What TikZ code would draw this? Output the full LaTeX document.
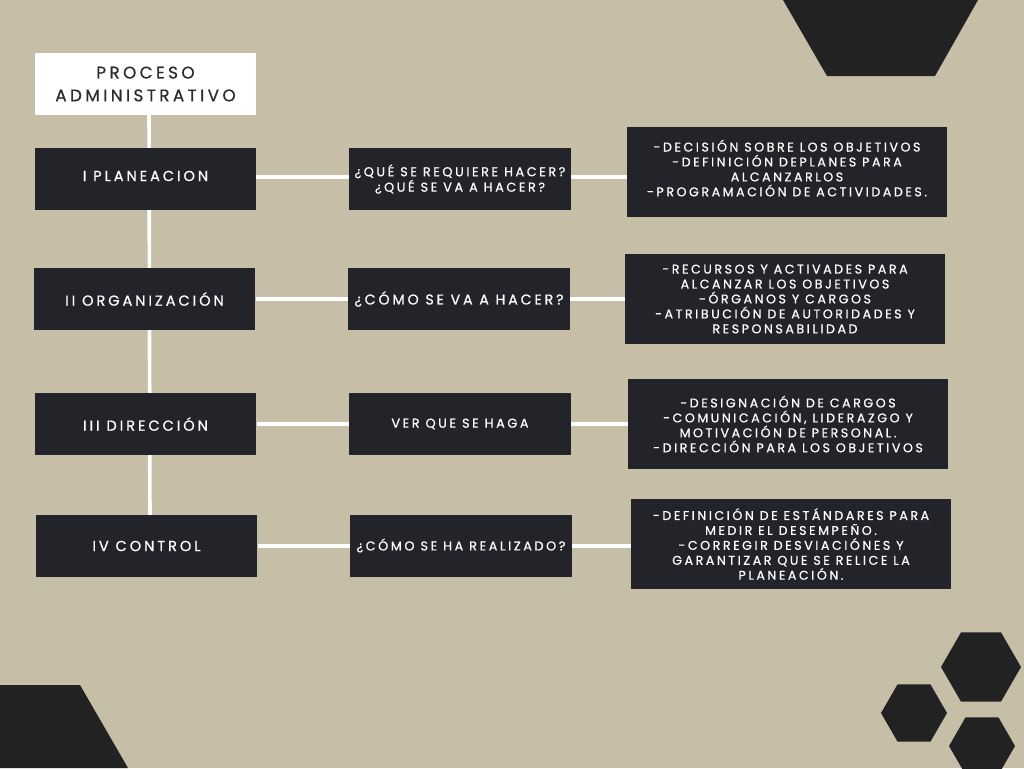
\documentclass[tikz,border=0pt]{standalone}
\usepackage{fontspec}
\usetikzlibrary{backgrounds}
\newfontfamily\cajafont[LetterSpace=20,FakeBold=0.6]{Poppins}
\definecolor{fondo}{HTML}{C6BEA7}
\definecolor{oscuro}{HTML}{232429}
\definecolor{forma}{HTML}{222222}
\definecolor{letra}{HTML}{2B2B2B}

\begin{document}
\begin{tikzpicture}[x=0.02cm, y=-0.02cm,
    caja/.style={fill=oscuro, text=white, inner sep=0pt, align=center,
        minimum width=4.44cm, minimum height=1.24cm},
    etapa/.style={caja, font=\cajafont\fontsize{8.3}{10}\selectfont},
    pregunta/.style={caja, font=\cajafont\fontsize{7.3}{8.8}\selectfont},
    detalle/.style={caja, minimum width=6.4cm, minimum height=1.8cm,
        font=\cajafont\fontsize{7.2}{8.5}\selectfont},
    linea/.style={white, line width=2.1pt}]
    % Background and corners
    \begin{scope}[on background layer]
        \fill[fondo] (0,0) rectangle (1024,768);
        \clip (0,0) rectangle (1024,768);
        \fill[forma] (783,0) -- (978,0) -- (935,76) -- (827,76) -- cycle;
        \fill[forma] (0,685) -- (80,685) -- (128,768) -- (0,768) -- cycle;
        \fill[forma] (981,667) +(0:40) \foreach \a in {60,120,...,300}{ -- +(\a:40)} -- cycle;
        \fill[forma] (914,713) +(0:33) \foreach \a in {60,120,...,300}{ -- +(\a:33)} -- cycle;
        \fill[forma] (982,746) +(0:33) \foreach \a in {60,120,...,300}{ -- +(\a:33)} -- cycle;
    \end{scope}
    \useasboundingbox (0,0) rectangle (1024,768);

    % Title
    \node[caja, fill=white, text=letra, font=\cajafont\fontsize{9.6}{13}\selectfont]
        (titulo) at (145.5,84) {PROCESO\\ADMINISTRATIVO};

    % Stages
    \node[etapa] (plan) at (145.5,179) {\raisebox{3.5pt}{I PLANEACION}};
    \node[etapa] (org) at (144.5,299) {II ORGANIZACIÓN};
    \node[etapa] (dir) at (145.5,424) {III DIRECCIÓN};
    \node[etapa] (ctrl) at (146.5,546) {IV CONTROL};

    % Questions
    \node[pregunta] (preg1) at (460,179) {¿QUÉ SE REQUIERE HACER?\\¿QUÉ SE VA A HACER?};
    \node[pregunta, font=\cajafont\fontsize{8.1}{9}\selectfont] (preg2) at (459,299) {¿CÓMO SE VA A HACER?};
    \node[pregunta] (preg3) at (460,424) {VER QUE SE HAGA};
    \node[pregunta] (preg4) at (461,545.5) {¿CÓMO SE HA REALIZADO?};

    % Details
    \node[detalle] (det1) at (787,172) {-DECISIÓN SOBRE LOS OBJETIVOS\\-DEFINICIÓN DEPLANES PARA\\ALCANZARLOS\\-PROGRAMACIÓN DE ACTIVIDADES.\\[-4pt]};
    \node[detalle] (det2) at (785,299) {-RECURSOS Y ACTIVADES PARA\\ALCANZAR LOS OBJETIVOS\\-ÓRGANOS Y CARGOS\\-ATRIBUCIÓN DE AUTORIDADES Y\\RESPONSABILIDAD};
    \node[detalle] (det3) at (788,424) {-DESIGNACIÓN DE CARGOS\\-COMUNICACIÓN, LIDERAZGO Y\\MOTIVACIÓN DE PERSONAL.\\-DIRECCIÓN PARA LOS OBJETIVOS};
    \node[detalle] (det4) at (791,544) {-DEFINICIÓN DE ESTÁNDARES PARA\\MEDIR EL DESEMPEÑO.\\-CORREGIR DESVIACIÓNES Y\\GARANTIZAR QUE SE RELICE LA\\PLANEACIÓN.};

    % Connectors
    \begin{scope}[on background layer]
        \draw[linea] ([xshift=0.07cm]titulo.center) -- ([xshift=0.07cm]ctrl.center);
        \draw[linea] ([yshift=0.04cm]plan.center) -- ([yshift=0.04cm]det1.west |- plan);
        \draw[linea] (org) -- (det2.west |- org);
        \draw[linea] (dir) -- (det3.west |- dir);
        \draw[linea] (ctrl) -- (det4.west |- ctrl);
    \end{scope}
\end{tikzpicture}
\end{document}
